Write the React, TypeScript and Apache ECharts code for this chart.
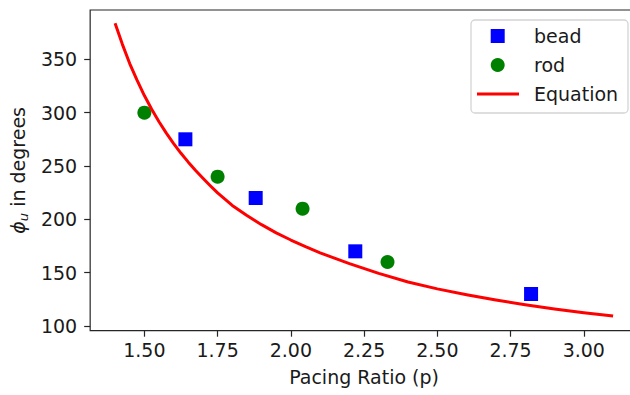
import React, { useEffect, useRef } from "react";
import * as echarts from "echarts";

const beadX = [1.64, 1.88, 2.22, 2.82];
const beadY = [275, 220, 170, 130];
const rodX = [1.5, 1.75, 2.04, 2.33];
const rodY = [300, 240, 210, 160];
const eqX = [1.4, 1.425, 1.45, 1.475, 1.5, 1.525, 1.55, 1.575, 1.6, 1.625, 1.65, 1.675, 1.7, 1.725, 1.75, 1.8, 1.85, 1.9, 1.95, 2.0, 2.05, 2.1, 2.2, 2.3, 2.4, 2.5, 2.6, 2.7, 2.8, 2.9, 3.0, 3.1];
const eqY = [383.8, 364, 346, 330.4, 316, 303.2, 291.5, 280.8, 271, 261.9, 253.6, 245.8, 238.5, 231.5, 224.8, 213, 203.5, 195, 187.3, 180.6, 174.3, 168.5, 158.5, 149.3, 141.3, 134.8, 129.3, 124.3, 119.9, 115.9, 112.4, 109.3];
const xTicks = [1.5, 1.75, 2.0, 2.25, 2.5, 2.75, 3.0];
const yTicks = [100, 150, 200, 250, 300, 350];
const legendNames = ["bead", "rod", "Equation"];

const FONT = "DejaVu Sans";
const AX = "#262626";

export default function App() {
  const ref = useRef<HTMLDivElement>(null);
  useEffect(() => {
    if (!ref.current) return;
    const chart = echarts.init(ref.current, null, { renderer: "svg" });
    const axisCommon = {
      axisLine: { show: false },
      splitLine: { show: false },
      axisTick: { show: true, inside: false, length: 6, lineStyle: { color: AX, width: 1.2 } },
    };
    const lx = 471, ly = 20;
    chart.setOption({
      animation: false,
      backgroundColor: "#ffffff",
      grid: {
        left: 90, top: 10, right: 2, height: 320.7,
        show: true, borderColor: AX, borderWidth: 1.2, backgroundColor: "transparent",
      },
      xAxis: {
        type: "value", min: 1.315, max: 3.185,
        ...axisCommon,
        axisTick: { ...axisCommon.axisTick, customValues: xTicks },
        axisLabel: {
          customValues: xTicks, margin: 10, color: "#1a1a1a", fontFamily: FONT, fontSize: 19,
          formatter: (v: number) => v.toFixed(2),
        },
        name: "Pacing Ratio (p)", nameLocation: "middle", nameGap: 37,
        nameTextStyle: { fontFamily: FONT, fontSize: 19, color: "#1a1a1a" },
      },
      yAxis: {
        type: "value", min: 95.6, max: 396.2,
        ...axisCommon,
        axisTick: { ...axisCommon.axisTick, customValues: yTicks },
        axisLabel: { customValues: yTicks, margin: 13, color: "#1a1a1a", fontFamily: FONT, fontSize: 19 },
        name: "{a|ϕ}{b|u}{c| in degrees}", nameLocation: "middle", nameGap: 58, nameRotate: 90,
        nameTextStyle: {
          fontFamily: FONT, fontSize: 19, color: "#1a1a1a",
          rich: {
            a: { fontFamily: FONT, fontSize: 19, fontStyle: "italic", color: "#1a1a1a" },
            b: { fontFamily: FONT, fontSize: 13, fontStyle: "italic", color: "#1a1a1a", verticalAlign: "bottom", padding: [0, 0, -3, 0] },
            c: { fontFamily: FONT, fontSize: 19, color: "#1a1a1a" },
          },
        },
      },
      series: [
        {
          name: legendNames[0], type: "scatter", symbol: "rect", symbolSize: 14,
          itemStyle: { color: "#0000ff", opacity: 1 },
          data: beadX.map((x, i) => [x, beadY[i]]),
        },
        {
          name: legendNames[1], type: "scatter", symbol: "circle", symbolSize: 14,
          itemStyle: { color: "#008000", opacity: 1 },
          data: rodX.map((x, i) => [x, rodY[i]]),
        },
        {
          name: legendNames[2], type: "line", showSymbol: false, smooth: false,
          lineStyle: { color: "#ff0000", width: 3, join: "round" },
          itemStyle: { color: "#ff0000" },
          data: eqX.map((x, i) => [x, eqY[i]]),
          z: 5,
        },
      ],
      graphic: [
        {
          type: "rect", z: 100,
          shape: { x: lx, y: ly, width: 157, height: 93, r: 4 },
          style: { fill: "rgba(255,255,255,0.85)", stroke: "#d4d4d4", lineWidth: 1.3 },
        },
        {
          type: "rect", z: 101,
          shape: { x: 490.7, y: 29, width: 14, height: 14 },
          style: { fill: "#0000ff" },
        },
        {
          type: "circle", z: 101,
          shape: { cx: 497.7, cy: 65, r: 7 },
          style: { fill: "#008000" },
        },
        {
          type: "line", z: 101,
          shape: { x1: 477, y1: 94, x2: 519, y2: 94 },
          style: { stroke: "#ff0000", lineWidth: 3 },
        },
        ...legendNames.map((n, i) => ({
          type: "text", z: 101,
          x: 534, y: 36 + i * 29,
          style: { text: n, fontFamily: FONT, fontSize: 19, fill: "#1a1a1a", verticalAlign: "middle", align: "left" },
        })),
      ],
    });
    return () => chart.dispose();
  }, []);
  return (
    <div style={{ position: "fixed", left: 0, top: 0, width: 630, height: 395, overflow: "hidden" }}>
      <div ref={ref} style={{ width: 640, height: 395 }} />
    </div>
  );
}
